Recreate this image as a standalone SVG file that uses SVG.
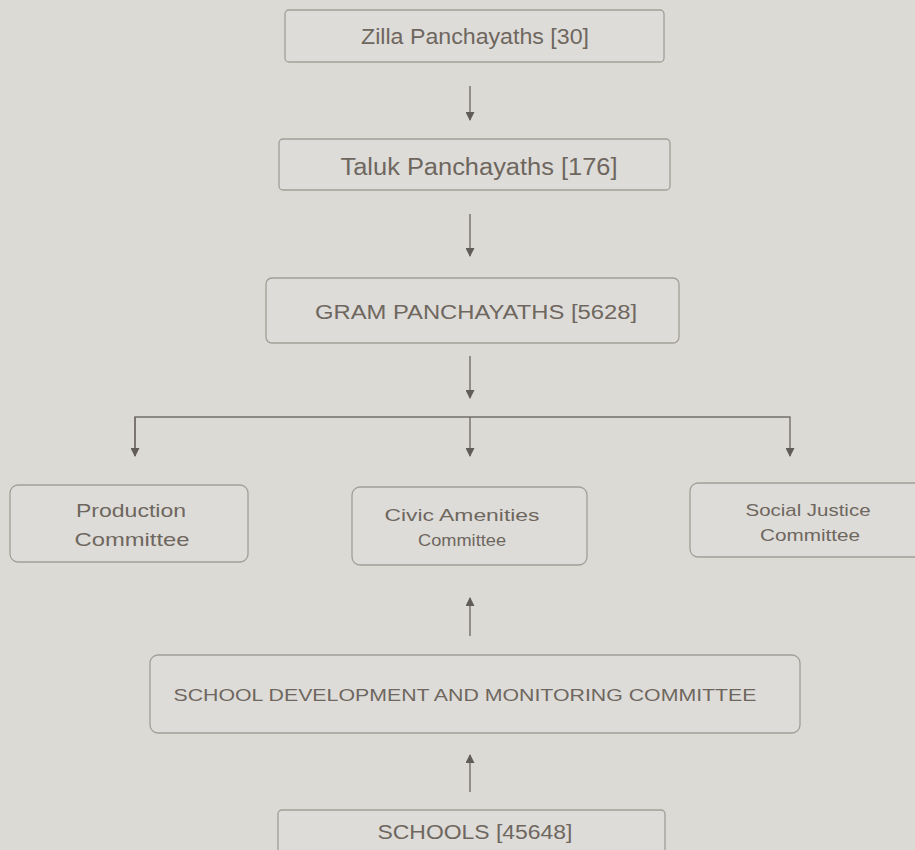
<svg xmlns="http://www.w3.org/2000/svg" width="915" height="850" viewBox="0 0 915 850">
<style>
.bg{fill:#dcdad5}
.box{fill:#dedcd8;stroke:#a29e98;stroke-width:1.3}
.t{font-family:"Liberation Sans",Arial,sans-serif;fill:#6e675f;text-anchor:middle}
.c{stroke:#726d67;stroke-width:1.4;fill:none}
</style>
<defs>
<marker id="ah" viewBox="0 0 10 10" refX="9" refY="5" markerWidth="10" markerHeight="9" markerUnits="userSpaceOnUse" orient="auto">
<path d="M0,0 L10,5 L0,10 z" fill="#615c56"/>
</marker>
</defs>
<rect class="bg" x="0" y="0" width="915" height="850"/>
<g id="connectors">
<line class="c" x1="470" y1="86" x2="470" y2="120" marker-end="url(#ah)"/>
<line class="c" x1="470" y1="214" x2="470" y2="256" marker-end="url(#ah)"/>
<line class="c" x1="470" y1="356" x2="470" y2="398" marker-end="url(#ah)"/>
<polyline class="c" points="135,456 135,417 790,417 790,456" marker-end="url(#ah)"/>
<line class="c" x1="135" y1="417" x2="135" y2="456" marker-end="url(#ah)"/>
<line class="c" x1="470" y1="417" x2="470" y2="456" marker-end="url(#ah)"/>
<line class="c" x1="470" y1="636" x2="470" y2="598" marker-end="url(#ah)"/>
<line class="c" x1="470" y1="792" x2="470" y2="755" marker-end="url(#ah)"/>
</g>
<g id="zilla">
<rect class="box" x="285" y="10" width="379" height="52" rx="4"/>
<text class="t" x="475" y="44" font-size="22" textLength="228" lengthAdjust="spacingAndGlyphs">Zilla Panchayaths [30]</text>
</g>
<g id="taluk">
<rect class="box" x="279" y="139" width="391" height="51" rx="4"/>
<text class="t" x="479" y="175" font-size="23" textLength="277" lengthAdjust="spacingAndGlyphs">Taluk Panchayaths [176]</text>
</g>
<g id="gram">
<rect class="box" x="266" y="278" width="413" height="65" rx="6"/>
<text class="t" x="476" y="319" font-size="20" textLength="322" lengthAdjust="spacingAndGlyphs">GRAM PANCHAYATHS [5628]</text>
</g>
<g id="production">
<rect class="box" x="10" y="485" width="238" height="77" rx="8"/>
<text class="t" x="131" y="517" font-size="19" textLength="110" lengthAdjust="spacingAndGlyphs">Production</text>
<text class="t" x="132" y="546" font-size="19" textLength="115" lengthAdjust="spacingAndGlyphs">Committee</text>
</g>
<g id="civic">
<rect class="box" x="352" y="487" width="235" height="78" rx="8"/>
<text class="t" x="462" y="521" font-size="17" textLength="155" lengthAdjust="spacingAndGlyphs">Civic Amenities</text>
<text class="t" x="462" y="546" font-size="17" textLength="88" lengthAdjust="spacingAndGlyphs">Committee</text>
</g>
<g id="social">
<rect class="box" x="690" y="483" width="235" height="74" rx="8"/>
<text class="t" x="808" y="516" font-size="17" textLength="125" lengthAdjust="spacingAndGlyphs">Social Justice</text>
<text class="t" x="810" y="541" font-size="17" textLength="100" lengthAdjust="spacingAndGlyphs">Committee</text>
</g>
<g id="sdmc">
<rect class="box" x="150" y="655" width="650" height="78" rx="8"/>
<text class="t" x="465" y="701" font-size="17" textLength="583" lengthAdjust="spacingAndGlyphs">SCHOOL DEVELOPMENT AND MONITORING COMMITTEE</text>
</g>
<g id="schools">
<rect class="box" x="278" y="810" width="387" height="60" rx="4"/>
<text class="t" x="475" y="839" font-size="20" textLength="195" lengthAdjust="spacingAndGlyphs">SCHOOLS [45648]</text>
</g>
</svg>
